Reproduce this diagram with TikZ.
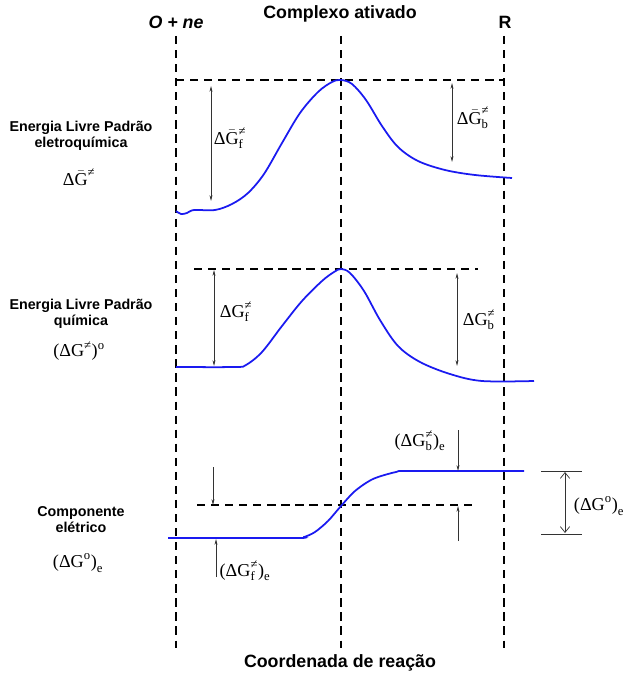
\documentclass[tikz,border=0pt]{standalone}
\usepackage{amsmath}
\usepackage{fontspec}
\setmainfont{Liberation Sans}
\newfontfamily\tnr{Liberation Serif}
\newcommand{\tx}[1]{\text{\tnr #1}}
\usetikzlibrary{arrows.meta}
\definecolor{curvec}{HTML}{1A1AF0}
\definecolor{dimc}{HTML}{333333}

\begin{document}
\begin{tikzpicture}[x=0.03cm,y=-0.03cm,
  guide/.style={dash pattern=on 7pt off 5pt,line width=1.2pt},
  curve/.style={curvec,line width=1.5pt},
  dimboth/.style={dimc,line width=0.6pt,{Stealth[length=5pt,width=2.5pt]}-{Stealth[length=5pt,width=2.5pt]}},
  dimone/.style={dimc,line width=0.6pt,-{Stealth[length=5pt,width=2.5pt]}},
  headlab/.style={font=\bfseries\fontsize{15.2}{17}\selectfont},
  sidelab/.style={font=\bfseries\fontsize{12.2}{13.6}\selectfont,align=center},
  mathlab/.style={font=\fontsize{15.5}{17}\selectfont,inner sep=0pt}]
  \useasboundingbox (0,0) rectangle (631,675);

  % headings
  \node[headlab] (lblO) at (176,22) {\itshape O + ne};
  \node[headlab] (lblTS) at (340,14) {Complexo ativado};
  \node[headlab] (lblR) at (505,22) {R};
  \node[headlab] (lblX) at (340,663) {Coordenada de reação};

  % reaction guides
  \draw[guide] (176,36) -- (176,648);
  \draw[guide] (341,36) -- (341,648);
  \draw[guide] (504,36) -- (504,648);

  % electrochemical free energy
  \node[sidelab] (sideA) at (81,136) {Energia Livre Padrão\\eletroquímica};
  \node[mathlab] (symA) at (79,177) {$\tx{Δ}\bar{\tx{G}}^{\tx{≠}}$};
  \draw[guide] (176,80) -- (504,80);
  \draw[curve] plot[smooth,tension=0.55] coordinates {(176,211) (181,214) (187,213) (194,210) (215,210)
    (232,204) (248,193) (264,174) (282,143) (300,113) (318,92) (332,82) (341,80) (352,84)
    (366,100) (382,126) (398,147) (418,161) (445,170) (475,175) (512,178)};
  \draw[dimboth] (211,86) -- (211,201);
  \node[mathlab] (dGfA) at (230,138) {$\tx{Δ}\bar{\tx{G}}^{\tx{≠}}_{\tx{f}}$};
  \draw[dimboth] (452,83) -- (452,162);
  \node[mathlab] (dGbA) at (473,118) {$\tx{Δ}\bar{\tx{G}}^{\tx{≠}}_{\tx{b}}$};

  % chemical free energy
  \node[sidelab] (sideB) at (81,314) {Energia Livre Padrão\\química};
  \node[mathlab] (symB) at (79,351) {$\tx{(ΔG}^{\tx{≠}}\tx{)}^{\tx{o}}$};
  \draw[guide] (194,269) -- (478,269);
  \draw[curve] plot[smooth,tension=0.55] coordinates {(176,367) (235,367) (246,365) (262,352)
    (282,326) (302,301) (322,281) (334,272) (341,269) (350,273) (364,291) (380,320) (398,346)
    (420,362) (450,374) (482,381) (534,381)};
  \draw[dimboth] (214,270) -- (214,366);
  \node[mathlab] (dGfB) at (236,312) {$\tx{ΔG}^{\tx{≠}}_{\tx{f}}$};
  \draw[dimboth] (457,273) -- (457,366);
  \node[mathlab] (dGbB) at (479,320) {$\tx{ΔG}^{\tx{≠}}_{\tx{b}}$};

  % electric component
  \node[sidelab] (sideC) at (81,520) {Componente\\elétrico};
  \node[mathlab] (symC) at (78,563) {$\tx{(ΔG}^{\tx{o}}\tx{)}_{\tx{e}}$};
  \draw[guide] (197,505) -- (478,505);
  \draw[curve] plot[smooth,tension=0.5] coordinates {(168,538) (294,538) (304,537) (315,532)
    (328,521) (341,506) (355,491) (373,479) (396,472) (410,471) (524,471)};
  \draw[dimone] (213,467) -- (213,505);
  \draw[dimone] (216,577) -- (216,539);
  \node[mathlab] (dGfC) at (245,571) {$\tx{(ΔG}^{\tx{≠}}_{\tx{f}}\tx{)}_{\tx{e}}$};
  \draw[dimone] (458,430) -- (458,471);
  \draw[dimone] (458,541) -- (458,506);
  \node[mathlab] (dGbC) at (420,441) {$\tx{(ΔG}^{\tx{≠}}_{\tx{b}}\tx{)}_{\tx{e}}$};
  \draw[dimc,line width=0.6pt] (541,471) -- (582,471) (541,534) -- (582,534);
  \draw[dimc,line width=0.6pt,{Straight Barb[length=5pt,width=8pt]}-{Straight Barb[length=5pt,width=8pt]}] (565,472) -- (565,533);
  \node[mathlab] (dGoC) at (599,506) {$\tx{(ΔG}^{\tx{o}}\tx{)}_{\tx{e}}$};
\end{tikzpicture}
\end{document}
